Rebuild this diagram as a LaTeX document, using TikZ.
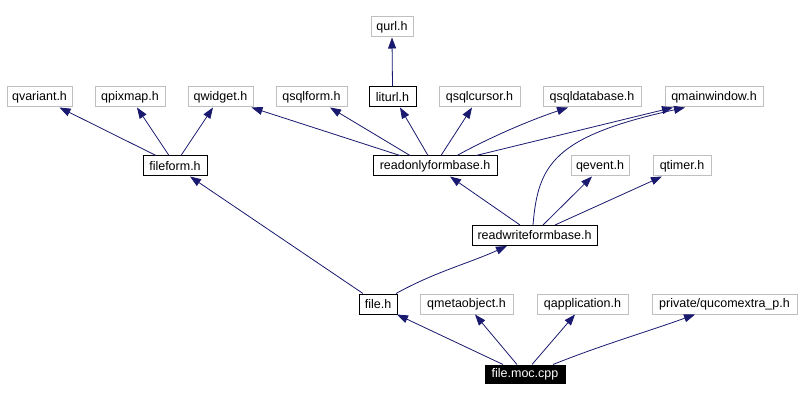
\documentclass[tikz,border=0pt]{standalone}
\usepackage{fontspec}
\setmainfont{Liberation Sans}
\usetikzlibrary{arrows.meta}
\definecolor{edgeblue}{HTML}{191970}
\definecolor{boxgray}{HTML}{BFBFBF}
\begin{document}
\begin{tikzpicture}[x=1pt,y=-1pt,
  box/.style={draw=boxgray,line width=1pt,minimum height=20pt,inner sep=0pt,font=\fontsize{12.5}{14}\selectfont,fill=white},
  bbox/.style={box,draw=black},
  mainbox/.style={box,draw=black,fill=black,text=white,minimum height=18pt},
  dep/.style={draw=edgeblue,line width=0.8pt,-{Triangle[length=11pt,width=8pt]}}]
\useasboundingbox (0,0) rectangle (801,401);
\fill[white] (0,0) rectangle (801,401);
% nodes
\node[box,minimum width=42pt] (qurl) at (392,27) {qurl.h};
\node[box,minimum width=65pt] (qvariant) at (39.5,97) {qvariant.h};
\node[box,minimum width=70pt] (qpixmap) at (130,97) {qpixmap.h};
\node[box,minimum width=65pt] (qwidget) at (220.5,97) {qwidget.h};
\node[box,minimum width=71pt] (qsqlform) at (311.5,97) {qsqlform.h};
\node[bbox,minimum width=47pt] (liturl) at (392.5,97) {liturl.h};
\node[box,minimum width=81pt] (qsqlcursor) at (479.5,97) {qsqlcursor.h};
\node[box,minimum width=98pt] (qsqldatabase) at (592,97) {qsqldatabase.h};
\node[box,minimum width=98pt] (qmainwindow) at (714,97) {qmainwindow.h};
\node[bbox,minimum width=64pt] (fileform) at (175,166) {fileform.h};
\node[bbox,minimum width=124pt] (readonly) at (435,166) {readonlyformbase.h};
\node[box,minimum width=58pt] (qevent) at (600,166) {qevent.h};
\node[box,minimum width=58pt] (qtimer) at (682,166) {qtimer.h};
\node[bbox,minimum width=125pt] (readwrite) at (534.5,235.5) {readwriteformbase.h};
\node[bbox,minimum width=38pt] (fileh) at (378,304) {file.h};
\node[box,minimum width=93pt] (qmetaobject) at (466.5,304) {qmetaobject.h};
\node[box,minimum width=91pt] (qapplication) at (582.5,304) {qapplication.h};
\node[box,minimum width=145pt] (qucomextra) at (724.5,304) {private/qucomextra\_p.h};
\node[mainbox,minimum width=80pt] (filemoc) at (525,374) {file.moc.cpp};
% edges
\draw[dep] (liturl.north) -- (qurl.south);
\draw[dep] ([xshift=-19pt]fileform.north) -- ([xshift=20pt]qvariant.south);
\draw[dep] ([xshift=-6pt]fileform.north) -- ([xshift=7pt]qpixmap.south);
\draw[dep] ([xshift=6pt]fileform.north) -- ([xshift=-7.5pt]qwidget.south);
\draw[dep] ([xshift=-35pt]readonly.north) -- ([xshift=31pt]qwidget.south);
\draw[dep] ([xshift=-25pt]readonly.north) -- ([xshift=18.5pt]qsqlform.south);
\draw[dep] ([xshift=-7pt]readonly.north) -- ([xshift=7.5pt]liturl.south);
\draw[dep] ([xshift=6pt]readonly.north) -- ([xshift=-7.5pt]qsqlcursor.south);
\draw[dep] ([xshift=22pt]readonly.north) .. controls +(40,-22) and +(-30,10) .. ([xshift=-24pt]qsqldatabase.south);
\draw[dep] ([xshift=41pt]readonly.north) -- ([xshift=-41pt]qmainwindow.south);
\draw[dep] ([xshift=-14.5pt]readwrite.north) -- ([xshift=15pt]readonly.south);
\draw[dep] ([xshift=-1.5pt]readwrite.north) .. controls +(5,-60) and +(-132,29) .. ([xshift=-29pt]qmainwindow.south);
\draw[dep] ([xshift=8.5pt]readwrite.north) -- ([xshift=-8pt]qevent.south);
\draw[dep] ([xshift=20.5pt]readwrite.north) -- ([xshift=-20pt]qtimer.south);
\draw[dep] ([xshift=-15pt]fileh.north) -- ([xshift=15pt]fileform.south);
\draw[dep] ([xshift=18pt]fileh.north) .. controls +(40,-22) and +(-40,18) .. ([xshift=-27.5pt]readwrite.south);
\draw[dep] ([xshift=-22pt]filemoc.north) -- ([xshift=19pt]fileh.south);
\draw[dep] ([xshift=-8pt]filemoc.north) -- ([xshift=8.5pt]qmetaobject.south);
\draw[dep] ([xshift=7pt]filemoc.north) -- ([xshift=-7.5pt]qapplication.south);
\draw[dep] ([xshift=28pt]filemoc.north) .. controls +(50,-20) and +(-50,18) .. ([xshift=-29.5pt]qucomextra.south);
\end{tikzpicture}
\end{document}
